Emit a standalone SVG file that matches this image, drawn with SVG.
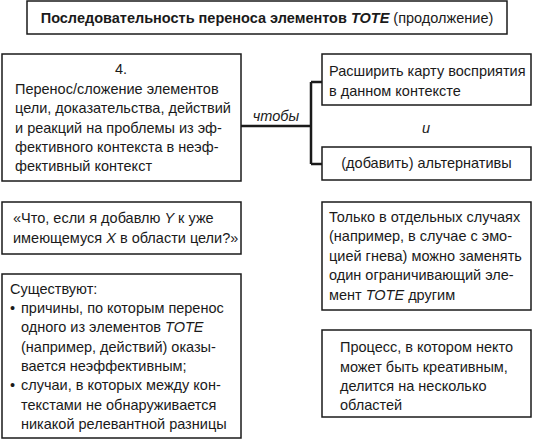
<svg xmlns="http://www.w3.org/2000/svg" width="534" height="440" viewBox="0 0 534 440">
<style>
.box{fill:#fff;stroke:#1a1a1a;stroke-width:1.5}
.t{font-family:"Liberation Sans",Arial,sans-serif;font-size:14.5px;fill:#1a1a1a}
.c{text-anchor:middle}
.i{font-style:italic}
.conn{fill:none;stroke:#1a1a1a;stroke-width:2.5}
</style>
<rect width="534" height="440" fill="#fff"/>
<g id="title">
<rect class="box" x="27" y="1" width="480" height="33"/>
<text class="t c" x="267" y="23"><tspan font-weight="bold">Последовательность переноса элементов </tspan><tspan font-weight="bold" font-style="italic">TOTE</tspan> (продолжение)</text>
</g>
<g id="connectors">
<path class="conn" d="M241,126 H311 M311,82 V164 M311,82 H322 M311,164 H322"/>
<text class="t i c" x="276" y="121">чтобы</text>
<text class="t i c" x="426" y="133">и</text>
</g>
<g id="node-transfer">
<rect class="box" x="2" y="54" width="239" height="127"/>
<text class="t c" x="121" y="74">4.</text>
<text class="t" x="15" y="93.5">Перенос/сложение элементов</text>
<text class="t" x="15" y="113">цели, доказательства, действий</text>
<text class="t" x="15" y="132.5">и реакций на проблемы из эф-</text>
<text class="t" x="15" y="152">фективного контекста в неэф-</text>
<text class="t" x="15" y="171">фективный контекст</text>
</g>
<g id="node-expand">
<rect class="box" x="322" y="54" width="209" height="51"/>
<text class="t" x="329" y="76">Расширить карту восприятия</text>
<text class="t" x="329" y="96">в данном контексте</text>
</g>
<g id="node-add">
<rect class="box" x="322" y="147" width="209" height="33"/>
<text class="t c" x="426.5" y="168">(добавить) альтернативы</text>
</g>
<g id="node-question">
<rect class="box" x="2" y="202" width="239" height="52"/>
<text class="t" x="13" y="223">«Что, если я добавлю <tspan class="i">Y</tspan> к уже</text>
<text class="t" x="13" y="243">имеющемуся <tspan class="i">X</tspan> в области цели?»</text>
</g>
<g id="node-exist">
<rect class="box" x="2" y="274" width="239" height="164"/>
<text class="t" x="10" y="294">Существуют:</text>
<text class="t" x="10" y="313">•</text>
<text class="t" x="21" y="313">причины, по которым перенос</text>
<text class="t" x="21" y="332">одного из элементов <tspan class="i">TOTE</tspan></text>
<text class="t" x="21" y="352">(например, действий) оказы-</text>
<text class="t" x="21" y="371">вается неэффективным;</text>
<text class="t" x="10" y="390">•</text>
<text class="t" x="21" y="390">случаи, в которых между кон-</text>
<text class="t" x="21" y="410">текстами не обнаруживается</text>
<text class="t" x="21" y="429">никакой релевантной разницы</text>
</g>
<g id="node-only">
<rect class="box" x="322" y="202" width="209" height="108"/>
<text class="t" x="329" y="222">Только в отдельных случаях</text>
<text class="t" x="329" y="241">(например, в случае с эмо-</text>
<text class="t" x="329" y="261">цией гнева) можно заменять</text>
<text class="t" x="329" y="280">один ограничивающий эле-</text>
<text class="t" x="329" y="300">мент <tspan class="i">TOTE</tspan> другим</text>
</g>
<g id="node-process">
<rect class="box" x="322" y="330" width="209" height="87"/>
<text class="t" x="340" y="352">Процесс, в котором некто</text>
<text class="t" x="340" y="372">может быть креативным,</text>
<text class="t" x="340" y="391">делится на несколько</text>
<text class="t" x="340" y="410">областей</text>
</g>
</svg>
